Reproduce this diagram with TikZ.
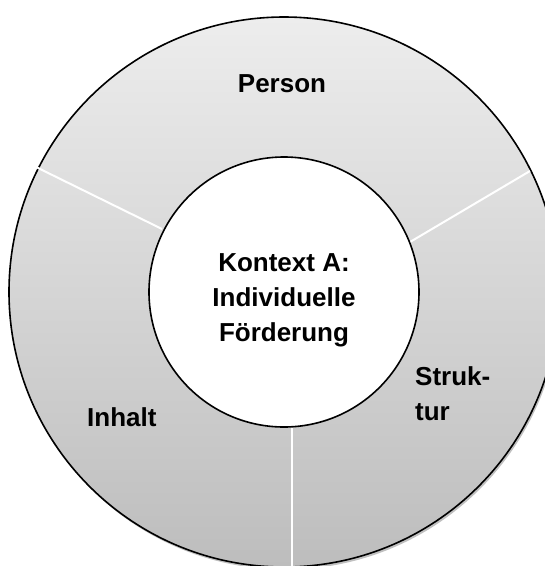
\documentclass[tikz,border=0pt]{standalone}
\usepackage{fontspec}
\setmainfont{Liberation Sans}
\usetikzlibrary{calc}
\begin{document}
\begin{tikzpicture}[x=1pt,y=1pt,
  label/.style={font=\fontsize{26}{35}\selectfont\bfseries, inner sep=0pt},
  ring/.style={top color=ringtop, bottom color=ringbottom},
  divider/.style={draw=white, line width=2pt},
  rim/.style={draw=black, line width=1.6pt}]
\definecolor{ringtop}{RGB}{237,237,237}
\definecolor{ringbottom}{RGB}{189,189,189}
\definecolor{shadowgray}{RGB}{150,150,150}
\useasboundingbox (0,0) rectangle (545,-566);
\clip (0,0) rectangle (545,-566);
\coordinate (c) at (284,-292);
% soft shadow under the outer ring
\fill[shadowgray, opacity=0.6] ($(c)+(1.5,-2.5)$) circle (275);
% outer ring with vertical gradient
\shade[ring] (c) circle (275);
\draw[rim] (c) circle (275);
% white separators between the three segments
\draw[divider] (162,-229) -- (36,-167);
\draw[divider] (410,-242) -- (530,-171);
\draw[divider] (292,-420) -- (292,-570);
% centre disc
\draw[rim, fill=white] (c) circle (135);
% labels (base anchor of a multi-line node sits on its last line)
\node[label, anchor=base] (person) at (282,-92) {Person};
\node[label, anchor=base west] (inhalt) at (87,-426) {Inhalt};
\node[label, anchor=base west, align=left] (struktur) at (415,-420.6) {Struk-\\tur};
\node[label, anchor=base, align=center] (kontext) at (284,-341) {Kontext A:\\Individuelle\\Förderung};
\end{tikzpicture}
\end{document}
